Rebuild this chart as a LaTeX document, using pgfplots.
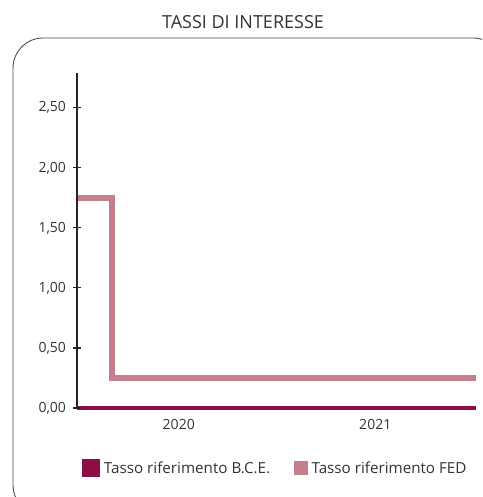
\documentclass[border=0pt]{standalone}
\usepackage{fontspec}
\setmainfont{Open Sans}
\usepackage{pgfplots}
\pgfplotsset{compat=1.18}
\definecolor{bce}{HTML}{8C0E45}
\definecolor{fed}{HTML}{C57E8B}
\definecolor{txt}{HTML}{333333}
\begin{document}
\begin{tikzpicture}[x=1pt,y=1pt]
\useasboundingbox (0,0) rectangle (482,497);
\begin{scope}
\clip (0,0) rectangle (482,497);
\draw[color=black!70, line width=0.9pt, rounded corners=30pt] (13,459) rectangle (503,-18);
\end{scope}
\node[txt, font=\fontsize{18}{20}\selectfont, anchor=center] at (243,475) {TASSI DI INTERESSE};
\begin{axis}[
  at={(77pt,89pt)}, anchor=south west,
  scale only axis, width=399pt, height=335pt,
  xmin=2020, xmax=2022, ymin=0, ymax=2.79,
  axis x line=none,
  axis y line*=left,
  axis on top=true,
  y axis line style={line width=1.6pt, black!85},
  ytick={0,0.5,1,1.5,2,2.5},
  major tick length=9pt, tick align=center,
  ytick style={line width=1.1pt, black!85},
  yticklabel style={txt, font=\fontsize{14}{16}\selectfont, xshift=-3pt},
  /pgf/number format/.cd, use comma, fixed, fixed zerofill, precision=2, assume math mode=true,
  /pgfplots/.cd,
  legend style={at={(0.4975,-0.179)}, anchor=center, draw=none, fill=none,
    font=\fontsize{15.2}{17}\selectfont, text=txt, legend columns=2,
    /tikz/every odd column/.append style={column sep=2pt},
    /tikz/every even column/.append style={column sep=22pt}},
  legend image code/.code={\fill[#1] (0pt,-6pt) rectangle (13pt,7pt);},
  clip=false,
]
\addplot[fed, line width=5.5pt, line join=miter, line cap=butt, forget plot] coordinates {(2020,1.75) (2020.175,1.75) (2020.175,0.25) (2022,0.25)};
\addplot[bce, line width=4.5pt, line cap=butt] coordinates {(2020,0) (2022,0)};
\addlegendentry{Tasso riferimento B.C.E.}
\addlegendimage{fed}
\addlegendentry{Tasso riferimento FED}
\node[txt, font=\fontsize{14}{16}\selectfont] at (axis cs:2020.51,-0.14) {2020};
\node[txt, font=\fontsize{14}{16}\selectfont] at (axis cs:2021.495,-0.14) {2021};
\end{axis}
\end{tikzpicture}
\end{document}
